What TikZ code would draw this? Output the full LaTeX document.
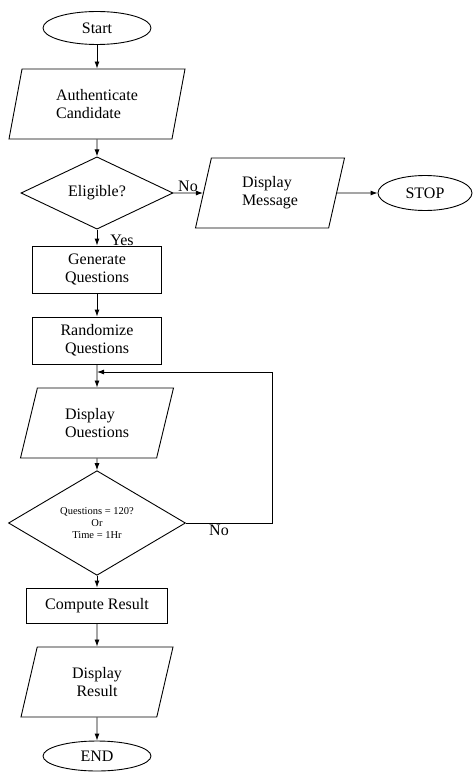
\documentclass[tikz,border=0pt]{standalone}
\usepackage{fontspec}
\setmainfont{Liberation Serif}
\usetikzlibrary{shapes.geometric,arrows.meta}
\begin{document}
\begin{tikzpicture}[x=1pt,y=-1pt,line width=0.9pt,
    every node/.style={font=\fontsize{16}{18}\selectfont},
    term/.style={draw,ellipse,inner sep=0pt},
    proc/.style={draw,rectangle,align=center,inner sep=0pt},
    io/.style={draw,trapezium,trapezium left angle=62,trapezium right angle=118,
      trapezium stretches body,inner sep=0pt,minimum height=70pt},
    decide/.style={draw,diamond,inner sep=0pt,align=center},
    >={Latex[length=7pt,width=5pt]}]
    \useasboundingbox (0,0) rectangle (475,773);
    \node[term,minimum width=108pt,minimum height=33pt] (start) at (97,28) {Start};
    \node[io,align=left,trapezium left angle=66,trapezium right angle=114,minimum width=176pt] (auth) at (97,104) {Authenticate\\Candidate};
    \node[decide,minimum width=152pt,minimum height=58pt] (elig) at (97,193) {Eligible?};
    \node[io,align=left,trapezium left angle=64,trapezium right angle=116,minimum width=149pt] (msg) at (270,193) {Display\\Message};
    \node[term,minimum width=94pt,minimum height=35pt] (stop) at (425,193) {STOP};
    \node[proc,minimum width=129pt,minimum height=47pt] (gen) at (97,269.5) {Generate\\Questions};
    \node[proc,minimum width=129pt,minimum height=47pt] (rand) at (97,340.5) {Randomize\\Questions};
    \coordinate (merge) at (rand.south |- 0,372);
    \node[io,align=left,trapezium left angle=60,trapezium right angle=120,minimum width=153pt] (dispq) at (97,423) {Display\\Ouestions};
    \node[decide,minimum width=177pt,minimum height=80pt,font=\fontsize{10.5}{12}\selectfont] (check) at (97,523) {Questions = 120?\\Or\\Time = 1Hr};
    \coordinate (loopr) at (272,372);
    \node[proc,minimum width=141pt,minimum height=35pt] (comp) at (97,605.5) {Compute Result};
    \node[io,align=center,trapezium left angle=61,trapezium right angle=119,minimum width=152pt] (dispr) at (97,682) {Display\\Result};
    \node[term,minimum width=108pt,minimum height=30pt] (fin) at (97,756) {END};
    \node (no1) at (188,186) {No};
    \node (yes) at (122,240) {Yes};
    \node (no2) at (219,530) {No};
    \draw[->] (start) -- (auth);
    \draw[->] (auth) -- (elig);
    \draw[->] (elig) -- (msg);
    \draw[->] (msg) -- (stop);
    \draw[->] (elig) -- (gen);
    \draw[->] (gen) -- (rand);
    \draw[->] (rand) -- (dispq);
    \draw[->] (dispq) -- (check);
    \draw[->] (check.east) -| (loopr) -- (merge);
    \draw[->] (check) -- (comp);
    \draw[->] (comp) -- (dispr);
    \draw[->] (dispr) -- (fin);
  \end{tikzpicture}
\end{document}
